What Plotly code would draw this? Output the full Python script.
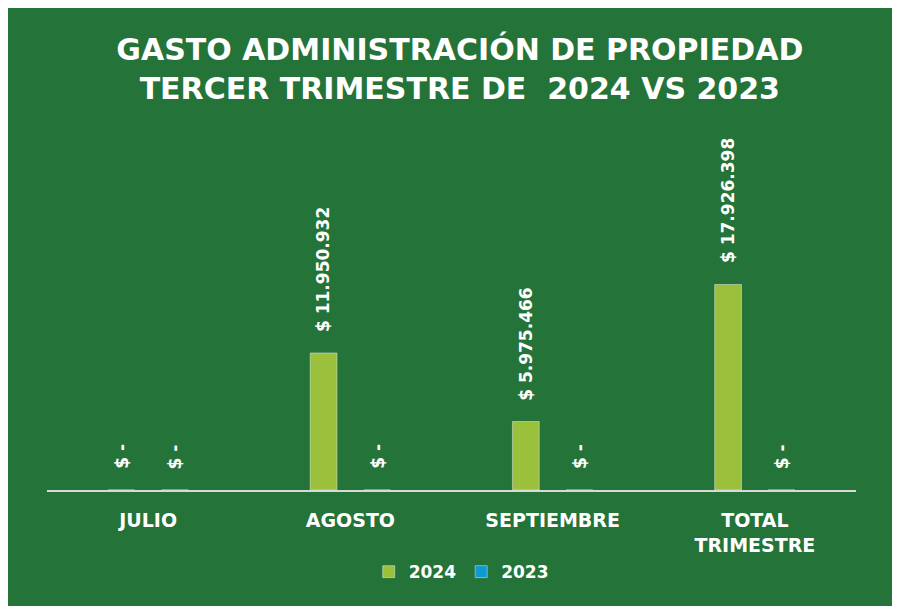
import plotly.graph_objects as go

meses = ['JULIO', 'AGOSTO', 'SEPTIEMBRE', 'TOTAL TRIMESTRE']
etiquetas = ['JULIO', 'AGOSTO', 'SEPTIEMBRE', 'TOTAL<br>TRIMESTRE']
gasto_2024 = [0, 11950932, 5975466, 17926398]
gasto_2023 = [0, 0, 0, 0]

colors = {
    'background': '#247338',
    'y2024': '#9BC03B',
    'y2023': '#0E9AD0',
    'axis': '#D9D9D9',
    'text': '#FFFFFF'
}
FONT = 'DejaVu Sans'


def fmt_pesos(v):
    # formato contable: $ 11.950.932 o $ - para cero
    if v == 0:
        return '$ -'
    return '$ ' + '{:,.0f}'.format(v).replace(',', '.')


fig = go.Figure()
fig.add_trace(go.Bar(x=meses, y=gasto_2024, name='2024', marker_color=colors['y2024']))
fig.add_trace(go.Bar(x=meses, y=gasto_2023, name='2023', marker_color=colors['y2023']))

# etiquetas de valor giradas sobre cada barra
bargap, groupgap = 0.47, 0.5
slot = (1 - bargap) / 2
for serie, vals in [(-1, gasto_2024), (1, gasto_2023)]:
    for i, v in enumerate(vals):
        fig.add_annotation(x=i + serie * slot / 2, y=v, xref='x', yref='y',
                           text=fmt_pesos(v), textangle=-90, showarrow=False,
                           yanchor='bottom', xanchor='center', yshift=19,
                           font=dict(family=FONT, size=17, color=colors['text'], weight='bold'))

fig.update_layout(
    width=900, height=606,
    margin=dict(l=39, r=52, t=122, b=124),
    paper_bgcolor=colors['background'],
    plot_bgcolor=colors['background'],
    barmode='group', bargap=bargap, bargroupgap=groupgap,
    title=dict(text='GASTO ADMINISTRACIÓN DE PROPIEDAD<br>TERCER TRIMESTRE DE  2024 VS 2023',
               x=0.502, xanchor='center', y=0.914, yanchor='middle',
               font=dict(family=FONT, size=30, color=colors['text'], weight='bold')),
    legend=dict(orientation='h', x=0.512, xanchor='center', y=-0.228, yanchor='middle',
                font=dict(family=FONT, size=17, color=colors['text'], weight='bold'),
                bgcolor='rgba(0,0,0,0)'),
    showlegend=True,
)
fig.update_xaxes(tickvals=meses, ticktext=etiquetas, showline=True, linecolor=colors['axis'],
                 linewidth=2, showgrid=False, ticks='', ticklabelstandoff=12, layer='above traces',
                 tickfont=dict(family=FONT, size=19, color=colors['text'], weight='bold'))
fig.update_yaxes(range=[0, 31.4e6], visible=False, showgrid=False)

fig.write_html('out.html')
